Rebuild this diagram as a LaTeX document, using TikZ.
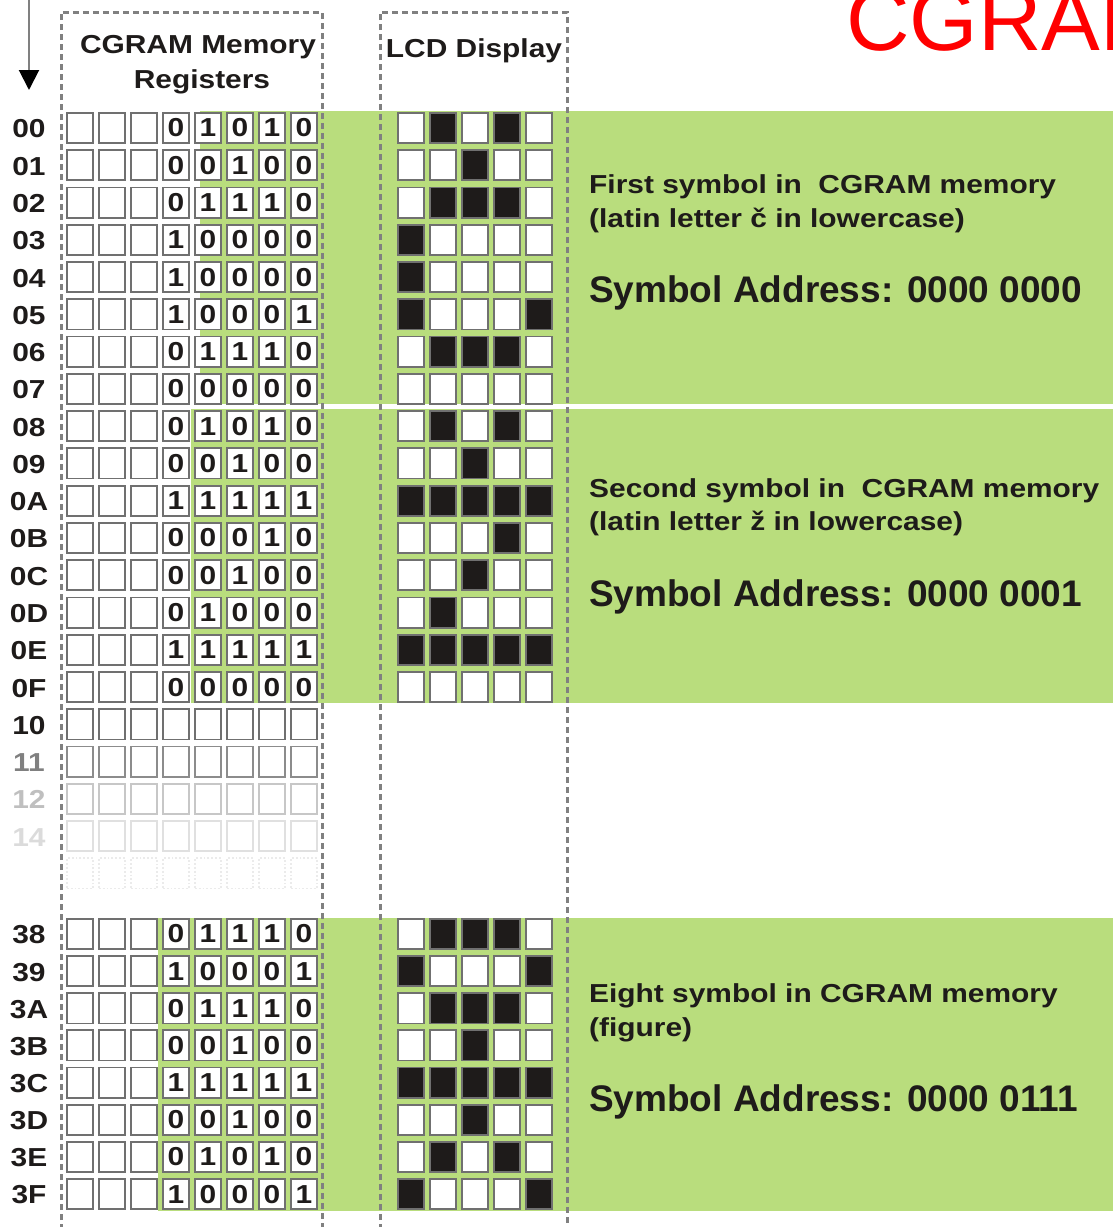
\documentclass[tikz,border=0pt]{standalone}
\usepackage{fontspec}
\setmainfont{Liberation Sans}
\newfontfamily\lblfont[FakeStretch=1.15]{Liberation Sans}
\usetikzlibrary{arrows.meta}

\definecolor{band}{RGB}{185,221,125}
\definecolor{cellline}{RGB}{112,112,112}
\definecolor{boxline}{RGB}{128,128,128}
\definecolor{pixdark}{RGB}{30,27,26}
\definecolor{inkdark}{RGB}{30,27,26}
\definecolor{titlered}{RGB}{255,0,0}

\begin{document}
\begin{tikzpicture}[x=1pt,y=-1pt,
  lbl/.style={font=\lblfont\bfseries\fontsize{26}{30}\selectfont, inner sep=0pt, text=inkdark},
  memcell/.style={draw=cellline, line width=1.8pt, fill=white, minimum width=26.2pt,
    minimum height=30.2pt, inner sep=0pt, lbl},
  pix0/.style={draw=cellline, line width=1.8pt, fill=white, minimum width=26.2pt,
    minimum height=30.2pt, inner sep=0pt},
  pix1/.style={pix0, fill=pixdark},
  note/.style={font=\lblfont\bfseries\fontsize{26}{30}\selectfont, inner sep=0pt,
    anchor=base west, text=inkdark},
  addr/.style={font=\bfseries\fontsize{37}{40}\selectfont, inner sep=0pt,
    anchor=base west, text=inkdark},
  framebox/.style={draw=boxline, line width=3pt, dash pattern=on 6pt off 4pt},
]
\useasboundingbox (0,0) rectangle (1113,1227);
\clip (0,0) rectangle (1113,1227);

% green bands behind the three symbols
\fill[band] (200,111) rectangle (1113,404);
\fill[band] (191,409) rectangle (1113,703);
\fill[band] (158,918) rectangle (1113,1211);

% dashed column frames
\draw[framebox] (61,1240) -- (61,12) -- (322,12) -- (322,1240);
\draw[framebox] (380,1240) -- (380,12) -- (567,12) -- (567,1240);

% column headings
\node[lbl] (hdr-mem1) at (198,47) {CGRAM Memory};
\node[lbl] (hdr-mem2) at (202,82) {Registers};
\node[lbl] (hdr-lcd) at (474,51) {LCD Display};

% big red title
\node[font=\fontsize{88}{88}\selectfont, text=titlered, inner sep=0pt, anchor=base west]
  (title) at (846,50) {CGRAM};

% address arrow
\coordinate (arr-top) at (29,0);
\coordinate (arr-tip) at (29,90);
\draw[gray, line width=2pt, -{Triangle[length=20pt,width=20pt,color=black]}] (arr-top) -- (arr-tip);

% symbols 1 and 2: addresses 00..0F
\foreach \lab/\bits [count=\i from 0] in {
  00/{0,1,0,1,0}, 01/{0,0,1,0,0}, 02/{0,1,1,1,0}, 03/{1,0,0,0,0},
  04/{1,0,0,0,0}, 05/{1,0,0,0,1}, 06/{0,1,1,1,0}, 07/{0,0,0,0,0},
  08/{0,1,0,1,0}, 09/{0,0,1,0,0}, 0A/{1,1,1,1,1}, 0B/{0,0,0,1,0},
  0C/{0,0,1,0,0}, 0D/{0,1,0,0,0}, 0E/{1,1,1,1,1}, 0F/{0,0,0,0,0}} {
  \pgfmathsetmacro\ry{128+37.27*\i}
  \node[lbl] (lab-\lab) at (29,\ry+1) {\lab};
  \foreach \c in {0,1,2} \node[memcell] (m-\lab-\c) at ({80+32*\c},\ry) {};
  \foreach \b [count=\k from 3] in \bits {
    \node[memcell] (m-\lab-\k) at ({80+32*\k},\ry) {\b};
    \node[pix\b] (p-\lab-\k) at ({411+32*(\k-3)},\ry) {};
  }
}

% unused addresses, fading out
\foreach \lab/\i/\lc/\cc in {10/16/inkdark/cellline, 11/17/black!50/black!45,
  12/18/black!25/black!22, 14/19/black!14/black!12} {
  \pgfmathsetmacro\ry{128+37.27*\i}
  \node[lbl, text=\lc] (lab-\lab) at (29,\ry+1) {\lab};
  \foreach \c in {0,...,7} \node[memcell, draw=\cc] (m-\lab-\c) at ({80+32*\c},\ry) {};
}
\pgfmathsetmacro\ry{128+37.27*20}
\foreach \c in {0,...,7} \node[memcell, draw=black!8, dotted] (m-gap-\c) at ({80+32*\c},\ry) {};

% symbol 8: addresses 38..3F
\foreach \lab/\bits [count=\j from 0] in {
  38/{0,1,1,1,0}, 39/{1,0,0,0,1}, 3A/{0,1,1,1,0}, 3B/{0,0,1,0,0},
  3C/{1,1,1,1,1}, 3D/{0,0,1,0,0}, 3E/{0,1,0,1,0}, 3F/{1,0,0,0,1}} {
  \pgfmathsetmacro\ry{934+37.15*\j}
  \node[lbl] (lab-\lab) at (29,\ry+1) {\lab};
  \foreach \c in {0,1,2} \node[memcell] (m-\lab-\c) at ({80+32*\c},\ry) {};
  \foreach \b [count=\k from 3] in \bits {
    \node[memcell] (m-\lab-\k) at ({80+32*\k},\ry) {\b};
    \node[pix\b] (p-\lab-\k) at ({411+32*(\k-3)},\ry) {};
  }
}

% descriptions
\node[note] (d1a) at (589,193) {First symbol in\ \ CGRAM memory};
\node[note] (d1b) at (589,227) {(latin letter č in lowercase)};
\node[addr] (d1c) at (589,302) {Symbol Address: 0000 0000};

\node[note] (d2a) at (589,497) {Second symbol in\ \ CGRAM memory};
\node[note] (d2b) at (589,530) {(latin letter ž in lowercase)};
\node[addr] (d2c) at (589,606) {Symbol Address: 0000 0001};

\node[note] (d3a) at (589,1002) {Eight symbol in CGRAM memory};
\node[note] (d3b) at (589,1036) {(figure)};
\node[addr] (d3c) at (589,1111) {Symbol Address: 0000 0111};
\end{tikzpicture}
\end{document}
